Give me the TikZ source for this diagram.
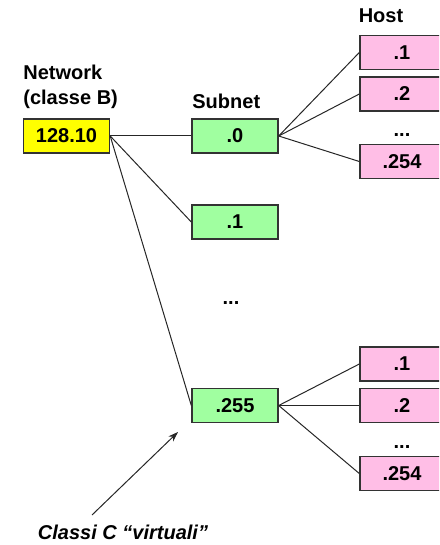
\documentclass[tikz,border=0pt]{standalone}
\usepackage{fontspec}
\setmainfont{Liberation Sans}
\usetikzlibrary{arrows.meta}
\definecolor{netyellow}{HTML}{FFFF00}
\definecolor{subgreen}{HTML}{A0FFA0}
\definecolor{hostpink}{HTML}{FFBEE6}
\tikzset{
  netbox/.style={draw=black!80, line width=0.7pt, minimum width=43pt, minimum height=17pt, inner sep=0pt, font=\fontsize{10}{12}\bfseries},
  hostbox/.style={netbox, fill=hostpink, minimum width=42pt},
  label/.style={font=\fontsize{10}{12.5}\bfseries, inner sep=0pt},
  link/.style={black!85, line width=0.5pt}
}
\begin{document}
\begin{tikzpicture}[x=0.5pt, y=-0.5pt]
% Set the page size (in pixels of the original picture)
\clip (0, 0) rectangle (439, 545);

% Draw the headings
\node[label, anchor=west, align=left] (nethead) at (23, 87) {Network\\(classe B)};
\node[label, anchor=west] (subhead) at (192, 101) {Subnet};
\node[label] (hosthead) at (381, 16) {Host};

% Draw the network and the subnets
\node[netbox, fill=netyellow] (net) at (66.5, 136) {128.10};
\node[netbox, fill=subgreen] (sub0) at (235, 136) {.0};
\node[netbox, fill=subgreen] (sub1) at (235, 222) {.1};
\node[label, anchor=base] (subdots) at (231, 304) {...};
\node[netbox, fill=subgreen] (sub255) at (235, 405.5) {.255};

% Draw the hosts of subnet .0
\node[hostbox] (hostA1) at (402, 52.5) {.1};
\node[hostbox] (hostA2) at (402, 94) {.2};
\node[label, anchor=base] (dotsA) at (402, 137) {...};
\node[hostbox] (hostA254) at (402, 161.5) {.254};

% Draw the hosts of subnet .255
\node[hostbox] (hostB1) at (402, 364) {.1};
\node[hostbox] (hostB2) at (402, 405.5) {.2};
\node[label, anchor=base] (dotsB) at (402, 448) {...};
\node[hostbox] (hostB254) at (402, 473.5) {.254};

% Draw the links
\draw[link] (net.east) -- (sub0.west);
\draw[link] (net.east) -- (sub1.west);
\draw[link] (net.east) -- (sub255.west);
\draw[link] (sub0.east) -- (hostA1.west);
\draw[link] (sub0.east) -- (hostA2.west);
\draw[link] (sub0.east) -- (hostA254.west);
\draw[link] (sub255.east) -- (hostB1.west);
\draw[link] (sub255.east) -- (hostB2.west);
\draw[link] (sub255.east) -- (hostB254.west);

% Draw the note and its arrow
\node[label, font=\fontsize{10}{12}\bfseries\itshape] (note) at (123, 532) {Classi C “virtuali”};
\coordinate (tip) at (178, 432);
\draw[link, -{Stealth[length=5pt, width=3.5pt]}] (92, 515) -- (tip);
\end{tikzpicture}
\end{document}
